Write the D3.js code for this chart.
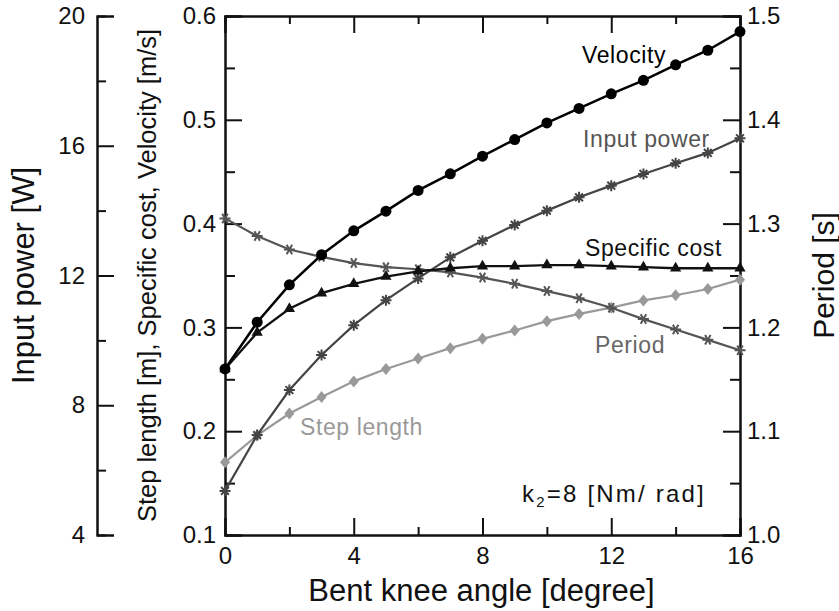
<!DOCTYPE html>
<html><head><meta charset="utf-8">
<script src="https://cdn.jsdelivr.net/npm/d3@7"></script>
<style>
body{margin:0;background:#fff;}
svg text{font-family:"Liberation Sans", Arial, sans-serif;}
</style></head>
<body><svg id="c" width="839" height="611"></svg>
<script>
const angles = [0,1,2,3,4,5,6,7,8,9,10,11,12,13,14,15,16];
const velocity = [0.260,0.305,0.341,0.370,0.393,0.412,0.432,0.448,0.465,0.481,0.497,0.511,0.525,0.538,0.553,0.567,0.585];
const specificCost = [0.260,0.295,0.318,0.333,0.342,0.349,0.354,0.357,0.359,0.359,0.360,0.360,0.359,0.358,0.357,0.357,0.357];
const stepLength = [0.170,0.196,0.217,0.233,0.248,0.260,0.270,0.280,0.289,0.297,0.306,0.313,0.319,0.326,0.331,0.337,0.346];
const inputPower = [5.36,7.08,8.47,9.55,10.47,11.24,11.91,12.56,13.07,13.56,14.00,14.41,14.77,15.13,15.46,15.78,16.23];
const period = [1.305,1.288,1.275,1.268,1.262,1.258,1.256,1.253,1.248,1.242,1.235,1.228,1.219,1.208,1.198,1.188,1.178];
const xTicks = [0,4,8,12,16];
const leftTicks = [0.1,0.2,0.3,0.4,0.5,0.6];
const powerTicks = [4,8,12,16,20];
const periodTicks = [1.0,1.1,1.2,1.3,1.4,1.5];

const svg = d3.select("#c");
const X0=225, X1=740, Y0=535, Y1=16, XP=97;
const x = d3.scaleLinear([0,16],[X0,X1]);
const yL = d3.scaleLinear([0.1,0.6],[Y0,Y1]);
const yP = d3.scaleLinear([4,20],[Y0,Y1]);
const yT = d3.scaleLinear([1.0,1.5],[Y0,Y1]);
const FS = 24;

function style(g, showText){
  g.select(".domain").attr("stroke","#111").attr("stroke-width",2);
  g.selectAll(".tick line").attr("stroke","#111").attr("stroke-width",2);
  g.selectAll("text").attr("font-size",FS).attr("fill","#111");
  if(!showText) g.selectAll("text").remove();
}
// bottom axis
style(svg.append("g").attr("transform",`translate(0,${Y0})`)
  .call(d3.axisBottom(x).tickValues(xTicks).tickSize(-17).tickPadding(12).tickFormat(d3.format("d"))), true);
style(svg.append("g").attr("transform",`translate(0,${Y0})`)
  .call(d3.axisBottom(x).tickValues([2,6,10,14]).tickSize(-8)), false);
// top axis
style(svg.append("g").attr("transform",`translate(0,${Y1})`)
  .call(d3.axisTop(x).tickValues(xTicks).tickSize(-17)), false);
style(svg.append("g").attr("transform",`translate(0,${Y1})`)
  .call(d3.axisTop(x).tickValues([2,6,10,14]).tickSize(-8)), false);
// left main axis
style(svg.append("g").attr("transform",`translate(${X0},0)`)
  .call(d3.axisLeft(yL).tickValues(leftTicks).tickSize(-17).tickPadding(9).tickFormat(d3.format(".1f"))), true);
style(svg.append("g").attr("transform",`translate(${X0},0)`)
  .call(d3.axisLeft(yL).tickValues([0.15,0.25,0.35,0.45,0.55]).tickSize(-10)), false);
// right period axis
style(svg.append("g").attr("transform",`translate(${X1},0)`)
  .call(d3.axisRight(yT).tickValues(periodTicks).tickSize(-17).tickPadding(7).tickFormat(d3.format(".1f"))), true);
style(svg.append("g").attr("transform",`translate(${X1},0)`)
  .call(d3.axisRight(yT).tickValues([1.05,1.15,1.25,1.35,1.45]).tickSize(-10)), false);
// outer power axis
style(svg.append("g").attr("transform",`translate(${XP},0)`)
  .call(d3.axisLeft(yP).tickValues(powerTicks).tickSize(-17).tickPadding(12).tickFormat(d3.format("d"))), true);
style(svg.append("g").attr("transform",`translate(${XP},0)`)
  .call(d3.axisLeft(yP).tickValues([6,10,14,18]).tickSize(-9)), false);

// axis titles
svg.append("text").attr("x",(X0+X1)/2-1).attr("y",601).attr("text-anchor","middle")
  .attr("font-size",31).attr("fill","#111").text("Bent knee angle [degree]");
svg.append("text").attr("transform",`translate(34,${(Y0+Y1)/2}) rotate(-90)`).attr("text-anchor","middle")
  .attr("font-size",31).attr("fill","#111").text("Input power [W]");
svg.append("text").attr("transform",`translate(156,${(Y0+Y1)/2}) rotate(-90)`).attr("text-anchor","middle")
  .attr("font-size",25.5).attr("fill","#111").text("Step length [m], Specific cost, Velocity [m/s]");
svg.append("text").attr("transform",`translate(834,${(Y0+Y1)/2}) rotate(-90)`).attr("text-anchor","middle")
  .attr("font-size",30).attr("fill","#111").text("Period [s]");

// series
function asterisk(n, r){
  let p="";
  for(let i=0;i<n;i++){const a=Math.PI*i/n; const dx=r*Math.cos(a), dy=r*Math.sin(a);
    p+=`M${-dx},${-dy}L${dx},${dy}`;}
  return p;
}
const series = [
  {vals:stepLength, y:yL, color:"#999", w:2.2, marker:"diamond"},
  {vals:period, y:yT, color:"#555", w:2.2, marker:"star6"},
  {vals:inputPower, y:yP, color:"#444", w:2.2, marker:"star8"},
  {vals:specificCost, y:yL, color:"#111", w:2.3, marker:"triangle"},
  {vals:velocity, y:yL, color:"#000", w:2.5, marker:"circle"}
];
series.forEach(s=>{
  const line = d3.line().x((d,i)=>x(angles[i])).y(d=>s.y(d));
  svg.append("path").attr("d",line(s.vals)).attr("fill","none").attr("stroke",s.color).attr("stroke-width",s.w);
  const g = svg.append("g");
  s.vals.forEach((v,i)=>{
    const cx=x(angles[i]), cy=s.y(v);
    if(s.marker==="circle") g.append("circle").attr("cx",cx).attr("cy",cy).attr("r",5.5).attr("fill",s.color);
    else if(s.marker==="triangle") g.append("path").attr("transform",`translate(${cx},${cy})`)
      .attr("d",d3.symbol(d3.symbolTriangle,55)()).attr("fill",s.color);
    else if(s.marker==="diamond") g.append("path").attr("transform",`translate(${cx},${cy})`)
      .attr("d","M0,-6L5,0L0,6L-5,0Z").attr("fill",s.color);
    else g.append("path").attr("transform",`translate(${cx},${cy})`)
      .attr("d",asterisk(s.marker==="star6"?3:4,5.5)).attr("stroke",s.color).attr("stroke-width",2).attr("fill","none");
  });
});

// labels
const labels = [
  {t:"Velocity", x:582, y:63, c:"#000"},
  {t:"Input power", x:583, y:147, c:"#555"},
  {t:"Specific cost", x:585, y:256, c:"#111"},
  {t:"Period", x:595, y:353, c:"#666"},
  {t:"Step length", x:300, y:435, c:"#999"}
];
labels.forEach(l=>svg.append("text").attr("x",l.x).attr("y",l.y).attr("font-size",23)
  .attr("letter-spacing",0.6).attr("fill",l.c).text(l.t));
const k = svg.append("text").attr("x",522).attr("y",502).attr("font-size",24)
  .attr("letter-spacing",2.2).attr("fill","#111");
k.append("tspan").text("k");
k.append("tspan").attr("font-size",15).attr("dy",5).text("2");
k.append("tspan").attr("dy",-5).text("=8 [Nm/ rad]");
</script></body></html>
